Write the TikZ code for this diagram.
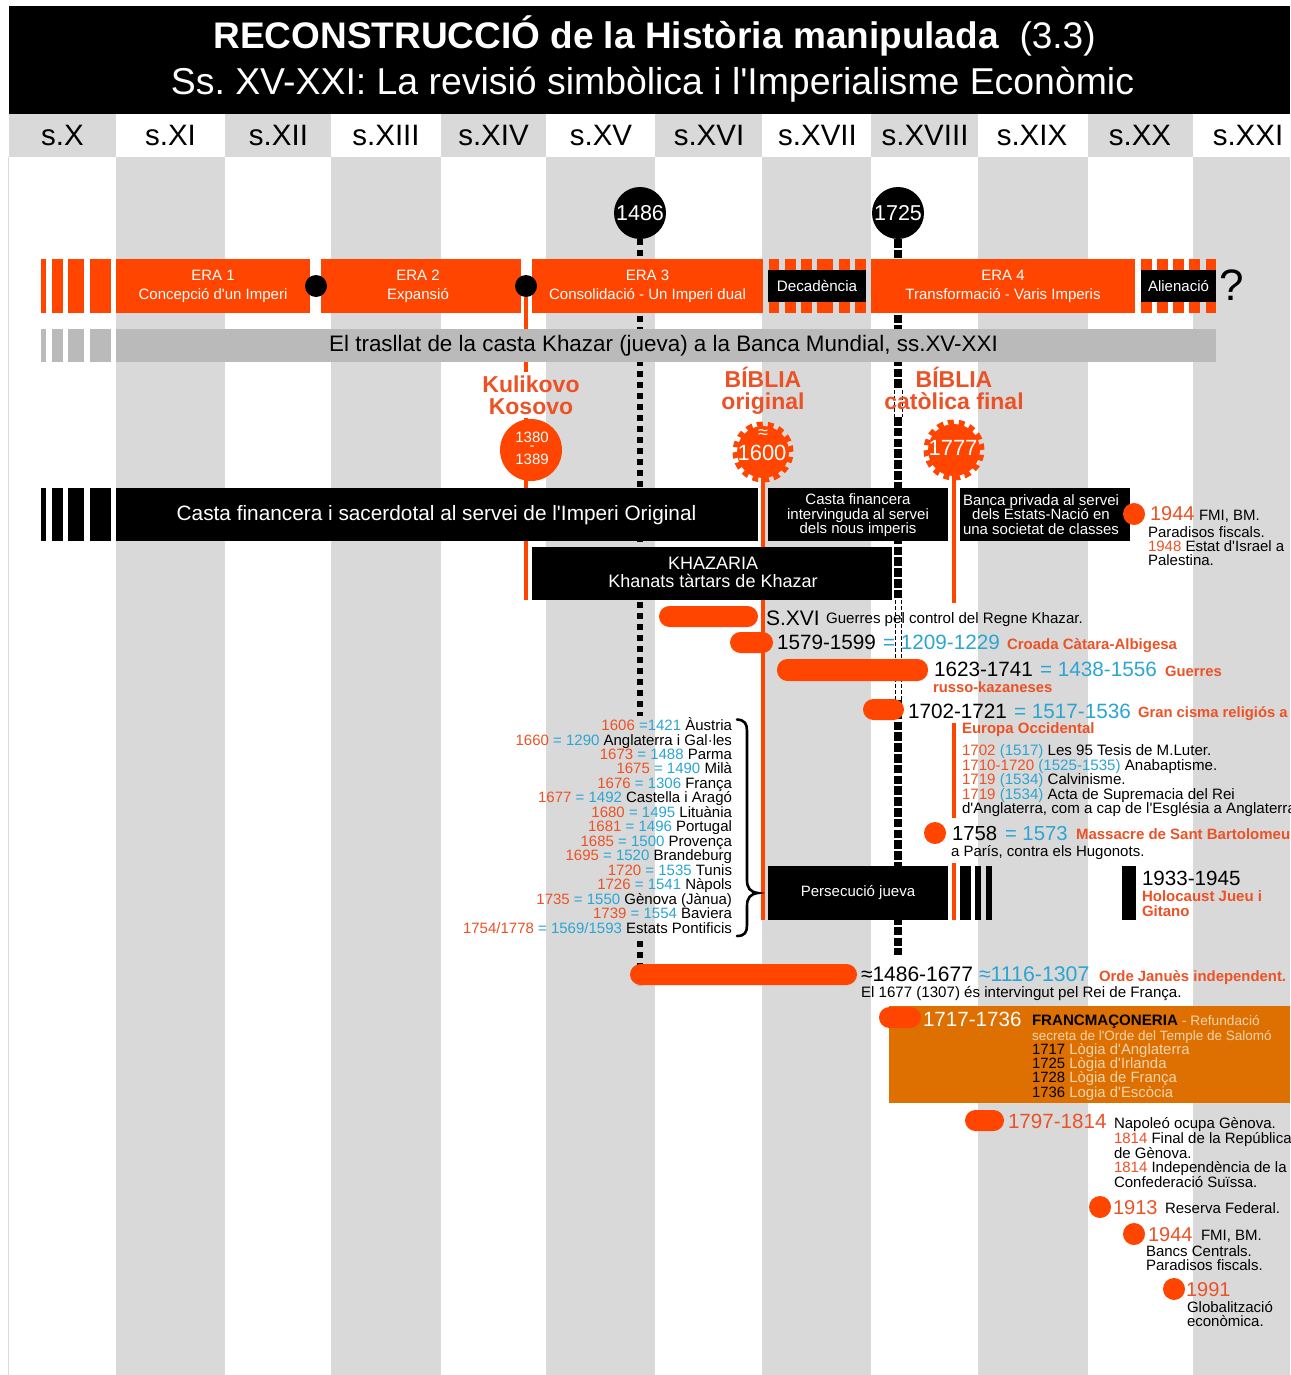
\documentclass[tikz,border=0pt]{standalone}
\usepackage{fontspec}
\setmainfont{Liberation Sans}
\definecolor{orng}{HTML}{FF4500}
\definecolor{torg}{HTML}{EC5225}
\definecolor{tblu}{HTML}{2BA5D2}
\definecolor{lgray}{HTML}{D9D9D9}
\definecolor{bgray}{HTML}{BABABA}
\definecolor{franc}{HTML}{DD7000}
\definecolor{lfr}{HTML}{F5D5B0}
\newcommand\fs[2]{\fontsize{#1pt}{#2pt}\selectfont}
\newcommand\co[1]{\textcolor{torg}{#1}}
\newcommand\cb[1]{\textcolor{tblu}{#1}}
\newcommand\cw[1]{\textcolor{white}{#1}}
\newcommand\cf[1]{\textcolor{lfr}{#1}}
\newcommand\cob[1]{\textcolor{torg}{\bfseries #1}}
\newcommand\q{\textquotesingle{}}
% name x1 y1 x2 y2 options text dx dy
\newcommand\boxn[9]{%
  \pgfmathsetmacro\bw{#4-#2}\pgfmathsetmacro\bh{#5-#3}%
  \pgfmathsetmacro\bx{(#4+#2)/2}\pgfmathsetmacro\by{(#5+#3)/2}%
  \pgfmathsetmacro\tx{\bx+#8}\pgfmathsetmacro\ty{\by+#9}%
  \node[boxst,minimum width=\bw pt,minimum height=\bh pt,#6] (#1) at (\bx,\by) {};
  \node[boxst,#6,fill=none] (#1t) at (\tx,\ty) {#7};}
% name x baseline size text
\newcommand\tl[5]{\node[lbl,font=\fs{#4}{#4}] (#1) at (#2,#3) {#5};}
\tikzset{
  boxst/.style={inner sep=0,outer sep=0,align=center,text=white},
  lbl/.style={anchor=base west,inner sep=0,outer sep=0},
  lblr/.style={anchor=base east,inner sep=0,outer sep=0},
  dotn/.style={circle,fill=orng,inner sep=0,outer sep=0,minimum size=22pt},
  blkdot/.style={circle,fill=black,inner sep=0,outer sep=0,minimum size=22pt},
  yearc/.style={circle,fill=black,text=white,inner sep=0,outer sep=0,minimum size=52pt,font=\fs{21.5}{22}},
  gearn/.style={circle,fill=orng,draw=orng,line width=9pt,dash pattern=on 5.5pt off 4.7pt,inner sep=0,outer sep=0,minimum size=52pt},
  gtxt/.style={text=white,inner sep=0,outer sep=0},
  pill/.style={fill=orng,rounded corners=10.5pt,draw=none},
  ldot/.style={line width=6pt,dash pattern=on 6pt off 5pt,black},
  hdot/.style={line width=8pt,dash pattern=on 8.5pt off 2.3pt,black},
  tdot/.style={line width=1pt,dash pattern=on 4pt off 2pt,black},
  oline/.style={line width=3.5pt,orng},
  hdr/.style={inner sep=0,outer sep=0,font=\fs{29.5}{29.5},minimum height=43pt},
  bigt/.style={inner sep=0,align=center,font=\fs{23}{21.5}\bfseries,text=torg,anchor=base},
}
\begin{document}
\frenchspacing
\begin{tikzpicture}[x=1pt,y=-1pt]
\path[use as bounding box,clip] (0,0) rectangle (1290,1375);
\fill[white] (0,0) rectangle (1290,1375);
% columns
\foreach \a/\b in {116/225,331/441,546/655,762/871,978/1088,1193/1290}
  \fill[lgray] (\a,157) rectangle (\b,1375);
\draw[lgray,line width=1pt] (8.5,157) -- (8.5,1375);
% header
\foreach \a/\b in {9/116,225/331,441/546,655/762,871/978,1088/1193}
  \fill[lgray] (\a,114) rectangle (\b,157);
\foreach \n/\c/\t in {h1/62.5/s.X,h2/170.5/s.XI,h3/278.5/s.XII,h4/386/s.XIII,h5/493.5/s.XIV,h6/601/s.XV,h7/709/s.XVI,h8/817.5/s.XVII,h9/925/s.XVIII,h10/1032/s.XIX,h11/1140/s.XX,h12/1248/s.XXI}
  \node[hdr] (\n) at (\c,135.5) {\t};
% title
\fill[black] (9,6) rectangle (1290,114);
\node[anchor=base,inner sep=0,text=white,font=\fs{37}{37}] (title1) at (654.5,49) {\textbf{RECONSTRUCCIÓ de la Història manipulada}\ \ (3.3)};
\node[anchor=base,inner sep=0,text=white,font=\fs{37.4}{37}] (title2) at (652.5,95) {Ss. XV-XXI: La revisió simbòlica i l\q Imperialisme Econòmic};
% year circles
\node[yearc] (y1486) at (640,213) {1486};
\node[yearc] (y1725) at (898,213) {1725};
% named ends
\coordinate (d0) at (640,716);\coordinate (d00) at (640,941);\coordinate (d1) at (640,985);
\coordinate (h1a) at (898,390);\coordinate (h1b) at (898,417);
\coordinate (h2a) at (898,600);\coordinate (h2b) at (898,700);
\coordinate (h3) at (898,955);
\draw[ldot] (y1486.south) -- (d0);
\draw[ldot] (d00) -- (d1);
\draw[hdot] (y1725.south) -- (h1a);
\draw[hdot] (h1b) -- (h2a);
\draw[hdot] (h2b) -- (h3);
\draw[tdot] (894,390) -- (894,417);\draw[tdot] (902,390) -- (902,417);
\draw[tdot] (895,600) -- (895,700);\draw[tdot] (901,600) -- (901,700);
% era row
\foreach \a/\b in {41/46,52/63,68/84,90/111} \fill[orng] (\a,259) rectangle (\b,313);
\boxn{era1}{116}{259}{310}{313}{fill=orng,font=\fs{15}{19}}{ERA 1\\Concepció d\q un Imperi}{0}{0.5}
\boxn{era2}{321}{259}{521}{313}{fill=orng,font=\fs{15}{19}}{ERA 2\\Expansió}{-3}{0.5}
\boxn{era3}{532}{259}{763}{313}{fill=orng,font=\fs{15}{19}}{ERA 3\\Consolidació - Un Imperi dual}{0}{0.5}
\foreach \a/\b in {769/779,785/796,801/812,817/833,839/850,855/866} \fill[orng] (\a,259) rectangle (\b,313);
\boxn{dec}{768}{270}{866}{302}{fill=black,font=\fs{15.2}{17}}{Decadència}{0}{0}
\boxn{era4}{871}{259}{1135}{313}{fill=orng,font=\fs{15}{19}}{ERA 4\\Transformació - Varis Imperis}{0}{0.5}
\foreach \a/\b in {1141/1152,1157/1168,1173/1184,1189/1200,1206/1216} \fill[orng] (\a,259) rectangle (\b,313);
\boxn{ali}{1141}{270}{1216}{302}{fill=black,font=\fs{15}{17}}{Alienació}{0}{0}
\node[inner sep=0,font=\fs{44}{44}] (qm) at (1232,285) {?};
% orange lines from era dot, bible gears
\node[blkdot] (bd1) at (316,286) {};
\node[blkdot] (bd2) at (526,286) {};
\coordinate (k1) at (526,372);\coordinate (k2) at (526,418);\coordinate (k3) at (526,600);
\draw[oline] (bd2) -- (k1);
\draw[oline] (k2) -- (k3);
\node[gearn] (g1600) at (763,452) {};
\node[gearn] (g1777) at (954,450) {};
\node[gtxt,font=\fs{18}{18}] (g1600a) at (763,434) {≈};
\node[gtxt,font=\fs{22}{22}] (g1600b) at (762,453) {1600};
\node[gtxt,font=\fs{22}{22}] (g1777a) at (953,448) {1777};
\coordinate (o1) at (763,920);\coordinate (o2) at (954,603);
\coordinate (o3) at (954,723);\coordinate (o4) at (954,818);
\coordinate (o5) at (954,863);\coordinate (o6) at (954,920);
\draw[oline] (g1600) -- (o1);
\draw[oline] (g1777) -- (o2);
\draw[oline] (o3) -- (o4);
\draw[oline] (o5) -- (o6);
% grey band
\foreach \a/\b in {41/46,52/63,68/84,90/111} \fill[bgray] (\a,329) rectangle (\b,362);
\boxn{band}{116}{329}{1216}{362}{fill=bgray,text=black,font=\fs{22.4}{23}}{El trasllat de la casta Khazar (jueva) a la Banca Mundial, ss.XV-XXI}{-2.5}{0.5}
% event titles
\node[bigt] (kul) at (531,414) {Kulikovo\\Kosovo};
\node[circle,fill=orng,minimum size=62pt,inner sep=0,outer sep=0] (kc) at (531,450) {};
\node[gtxt,font=\fs{15}{15}] (kct1) at (532,437.5) {1380};
\node[gtxt,font=\fs{15}{15}] (kct2) at (532,448) {-};
\node[gtxt,font=\fs{15}{15}] (kct3) at (532,459.5) {1389};
\node[bigt] (bo) at (763,409) {BÍBLIA\\original};
\node[bigt] (bc) at (954,409) {BÍBLIA\\catòlica final};
% black row
\foreach \a/\b in {41/46,52/63,68/84,90/111} \fill[black] (\a,488) rectangle (\b,541);
\boxn{casta}{116}{488}{758}{541}{fill=black,font=\fs{20.8}{21}}{Casta financera i sacerdotal al servei de l\q Imperi Original}{-0.5}{1}
\boxn{casta2}{768}{488}{948}{541}{fill=black,font=\fs{15}{14.5}}{Casta financera\\intervinguda al servei\\dels nous imperis}{0}{1}
\boxn{banca}{960}{488}{1130}{541}{fill=black,font=\fs{15}{14.5}}{Banca privada al servei\\dels Estats-Nació en\\una societat de classes}{-4}{0}
\node[dotn] (dA) at (1134,514) {};
\tl{a1}{1150}{520}{20}{\co{1944}}
\tl{a1b}{1199}{520}{15}{FMI, BM.}
\tl{a2}{1148}{537}{15}{Paradisos fiscals.}
\tl{a3}{1148}{551}{15}{\co{1948} Estat d\q Israel a}
\tl{a4}{1148}{565}{15}{Palestina.}
\boxn{khaz}{532}{547}{892}{600}{fill=black,font=\fs{18}{18}}{KHAZARIA\\Khanats tàrtars de Khazar}{1}{-1}
% bars
\fill[pill] (659,606) rectangle (758,627);
\fill[pill] (730,632) rectangle (773,653);
\fill[pill] (777,659) rectangle (928,681);
\fill[pill] (863,699) rectangle (904,720);
\fill[pill] (630,964) rectangle (857,985);
% events
\tl{b1}{766}{625}{21}{S.XVI}
\tl{b1b}{826}{623.5}{15.1}{Guerres pel control del Regne Khazar.}
\tl{b2}{777}{649.5}{20.7}{1579-1599}
\tl{b2b}{883}{649.5}{20.7}{\cb{= 1209-1229}}
\tl{b2c}{1007}{649}{15}{\cob{Croada Càtara-Albigesa}}
\tl{b3}{934}{676}{20.7}{1623-1741}
\tl{b3b}{1040}{676}{20.7}{\cb{= 1438-1556}}
\tl{b3c}{1165}{676}{14.8}{\cob{Guerres}}
\tl{b4}{933}{692}{14.8}{\cob{russo-kazaneses}}
\tl{b5}{908}{718}{20.7}{1702-1721}
\tl{b5b}{1014}{718}{20.7}{\cb{= 1517-1536}}
\tl{b5c}{1138}{717}{14.8}{\cob{Gran cisma religiós a}}
\tl{b6}{962}{733}{15}{\cob{Europa Occidental}}
\tl{c1}{962}{755}{15.1}{\co{1702} \cb{(1517)} Les 95 Tesis de M.Luter.}
\tl{c2}{962}{770}{15.1}{\co{1710-1720} \cb{(1525-1535)} Anabaptisme.}
\tl{c3}{962}{784}{15.1}{\co{1719} \cb{(1534)} Calvinisme.}
\tl{c4}{962}{799}{15.1}{\co{1719} \cb{(1534)} Acta de Supremacia del Rei}
\tl{c5}{962}{813}{15.1}{d\q Anglaterra, com a cap de l\q Església a Anglaterra}
\node[dotn] (dB) at (935,833) {};
\tl{b7}{952}{840}{20.3}{1758}
\tl{b7b}{1005}{840}{20.3}{\cb{= 1573}}
\tl{b7c}{1076}{839}{15}{\cob{Massacre de Sant Bartolomeu}}
\tl{b8}{951}{856}{15}{a París, contra els Hugonots.}
% persecution
\boxn{pers}{768}{866}{948}{920}{fill=black,font=\fs{15}{15}}{Persecució jueva}{0}{0}
\foreach \a/\b in {960/971,975/981,986/992} \fill[black] (\a,866) rectangle (\b,920);
\fill[black] (1122,866) rectangle (1136,920);
\tl{p1}{1142}{885}{20.6}{1933-1945}
\tl{p2}{1142}{901}{15}{\cob{Holocaust Jueu i}}
\tl{p3}{1142}{916}{15}{\cob{Gitano}}
% left list
\foreach \n/\y/\t in {
 l1/730/{\co{1606} \cb{=1421} Àustria},
 l2/745/{\co{1660} \cb{= 1290} Anglaterra i Gal·les},
 l3/759/{\co{1673} \cb{= 1488} Parma},
 l4/773/{\co{1675} \cb{= 1490} Milà},
 l5/788/{\co{1676} \cb{= 1306} França},
 l6/802/{\co{1677} \cb{= 1492} Castella i Aragó},
 l7/817/{\co{1680} \cb{= 1495} Lituània},
 l8/831/{\co{1681} \cb{= 1496} Portugal},
 l9/846/{\co{1685} \cb{= 1500} Provença},
 l10/860/{\co{1695} \cb{= 1520} Brandeburg},
 l11/875/{\co{1720} \cb{= 1535} Tunis},
 l12/889/{\co{1726} \cb{= 1541} Nàpols},
 l13/904/{\co{1735} \cb{= 1550} Gènova (Jànua)},
 l14/918/{\co{1739} \cb{= 1554} Baviera},
 l15/933/{\co{1754/1778} \cb{= 1569/1593} Estats Pontificis}}
 \node[lblr,font=\fs{15}{15}] (\n) at (732,\y) {\t};
\draw[black,line width=2.6pt,line cap=round] (737,719.5) .. controls (745,720) and (747,724) .. (747,731)
  -- (747,880) .. controls (747,888) and (750,892) .. (758,893)
  .. controls (750,894) and (747,898) .. (747,906) -- (747,925)
  .. controls (747,932) and (745,936) .. (737,936);
% Genoa
\tl{g1}{861}{981}{21}{≈1486-1677}
\tl{g1b}{979}{981}{21.3}{\cb{≈1116-1307}}
\tl{g1c}{1099}{981}{14.9}{\cob{Orde Januès independent.}}
\tl{g2}{861}{997}{15.1}{El 1677 (1307) és intervingut pel Rei de França.}
% Freemasonry
\fill[franc] (889,1006) rectangle (1290,1103);
\fill[pill] (879,1007) rectangle (921,1028);
\tl{f0}{923}{1026}{20.6}{\cw{1717-1736}}
\tl{f1}{1032}{1025}{15.1}{\textbf{FRANCMAÇONERIA}}
\tl{f1b}{1182}{1025}{13.7}{\cf{- Refundació}}
\tl{f2}{1032}{1040}{13.5}{\cf{secreta de l\q Orde del Temple de Salomó}}
\tl{f3}{1032}{1054}{14.9}{1717 \cf{Lògia d\q Anglaterra}}
\tl{f4}{1032}{1068}{14.9}{1725 \cf{Lògia d\q Irlanda}}
\tl{f5}{1032}{1082}{14.9}{1728 \cf{Lògia de França}}
\tl{f6}{1032}{1097}{14.9}{1736 \cf{Logia d\q Escòcia}}
% Napoleon etc
\fill[pill] (965,1110) rectangle (1004,1131);
\tl{n0}{1008}{1128}{20.6}{\co{1797-1814}}
\tl{n1}{1114}{1128}{15}{Napoleó ocupa Gènova.}
\tl{n2}{1114}{1143}{15}{\co{1814} Final de la República}
\tl{n3}{1114}{1158}{15}{de Gènova.}
\tl{n4}{1114}{1172}{15}{\co{1814} Independència de la}
\tl{n5}{1114}{1187}{15}{Confederació Suïssa.}
\node[dotn] (dC) at (1100,1207) {};
\tl{r1}{1113}{1214}{20}{\co{1913}}
\tl{r1b}{1165}{1213}{15}{Reserva Federal.}
\node[dotn] (dD) at (1134,1234) {};
\tl{r2}{1148}{1241}{20}{\co{1944}}
\tl{r2b}{1201}{1240}{15}{FMI, BM.}
\tl{r3}{1146}{1256}{15}{Bancs Centrals.}
\tl{r4}{1146}{1270}{15}{Paradisos fiscals.}
\node[dotn] (dE) at (1174,1289) {};
\tl{r5}{1186}{1296}{20}{\co{1991}}
\tl{r6}{1187}{1312}{15}{Globalització}
\tl{r7}{1187}{1326}{15}{econòmica.}
\end{tikzpicture}
\end{document}
